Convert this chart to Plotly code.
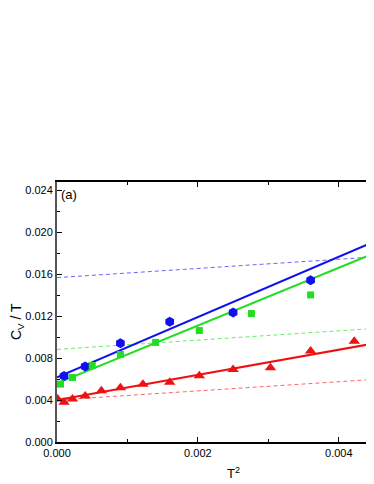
import plotly.graph_objects as go

# measured points (T^2, Cv/T)
blue_x = [0.0001, 0.0004, 0.0009, 0.0016, 0.0025, 0.0036]
blue_y = [0.00629, 0.0072, 0.00943, 0.01146, 0.01235, 0.01543]

green_x = [0.00005, 0.00022, 0.0005, 0.0009, 0.0014, 0.00202, 0.00276, 0.0036]
green_y = [0.00552, 0.00616, 0.0073, 0.00835, 0.0095, 0.01063, 0.01225, 0.01403]

red_x = [0.00001, 0.0001, 0.00022, 0.0004, 0.00063, 0.0009, 0.00122, 0.0016,
         0.00202, 0.0025, 0.00303, 0.0036, 0.00422]
red_y = [0.0041, 0.00378, 0.0041, 0.00438, 0.00489, 0.00517, 0.0055, 0.00571,
         0.00632, 0.00692, 0.00708, 0.00867, 0.00962]

# fitted lines (solid) and reference lines (dashed), end points
line_x = [0.0, 0.0045]
blue_fit = [0.00616, 0.0191]
green_fit = [0.00559, 0.0180]
red_fit = [0.0040, 0.0094]
blue_dash = [0.01568, 0.01765]
green_dash = [0.00883, 0.01083]
red_dash = [0.0040, 0.00597]

BLUE = "#1010ee"
GREEN = "#22dd22"
RED = "#ee1111"

fig = go.Figure()

for ys, c in [(blue_dash, "#6666ff"), (green_dash, "#66ee66"), (red_dash, "#ff6666")]:
    fig.add_trace(go.Scatter(x=line_x, y=ys, mode="lines",
                             line=dict(color=c, width=1, dash="4px,3px")))

for ys, c in [(blue_fit, BLUE), (green_fit, GREEN), (red_fit, RED)]:
    fig.add_trace(go.Scatter(x=line_x, y=ys, mode="lines", line=dict(color=c, width=2)))

fig.add_trace(go.Scatter(x=blue_x, y=blue_y, mode="markers",
                         marker=dict(symbol="hexagon", size=10, color=BLUE)))
fig.add_trace(go.Scatter(x=green_x, y=green_y, mode="markers",
                         marker=dict(symbol="square", size=7, color=GREEN)))
fig.add_trace(go.Scatter(x=red_x, y=red_y, mode="markers",
                         marker=dict(symbol="triangle-up", size=10, color=RED)))

fig.add_annotation(x=0.00003, y=0.0236, text="(a)", showarrow=False,
                   xanchor="left", font=dict(size=13, color="black"))

# axis titles placed as annotations (the original plot was wider than the crop)
fig.add_annotation(x=0.0025, xref="x", y=0, yref="paper", yanchor="middle",
                   yshift=-31, text="T<sup>2</sup>", showarrow=False,
                   font=dict(size=13, color="black"))
fig.add_annotation(x=0, xref="paper", y=0.4615, yref="paper", xanchor="center",
                   xshift=-40, text="C<sub>V</sub> / T", textangle=-90,
                   showarrow=False, font=dict(size=14, color="black"))

fig.update_layout(
    width=366, height=476,
    margin=dict(l=49, r=0, t=174, b=42),
    plot_bgcolor="white", paper_bgcolor="white",
    showlegend=False,
    font=dict(family="Liberation Sans, Arial", size=11, color="black"),
    xaxis=dict(
        range=[0, 0.0045], tickvals=[0, 0.002, 0.004], tickformat=".3f",
        ticks="inside", ticklen=5, tickcolor="black",
        minor=dict(tickvals=[0.001, 0.003], ticks="inside", ticklen=3, tickcolor="black"),
        showline=True, linecolor="black", linewidth=1.5, mirror="allticks",
        showgrid=False, zeroline=False,
    ),
    yaxis=dict(
        range=[0, 0.0248], tickvals=[0, 0.004, 0.008, 0.012, 0.016, 0.020, 0.024],
        tickformat=".3f",
        ticks="inside", ticklen=5, tickcolor="black",
        minor=dict(tickvals=[0.002, 0.006, 0.010, 0.014, 0.018, 0.022],
                   ticks="inside", ticklen=3, tickcolor="black"),
        showline=True, linecolor="#555555", linewidth=2,
        showgrid=False, zeroline=False,
    ),
)

fig.write_html("out.html")
